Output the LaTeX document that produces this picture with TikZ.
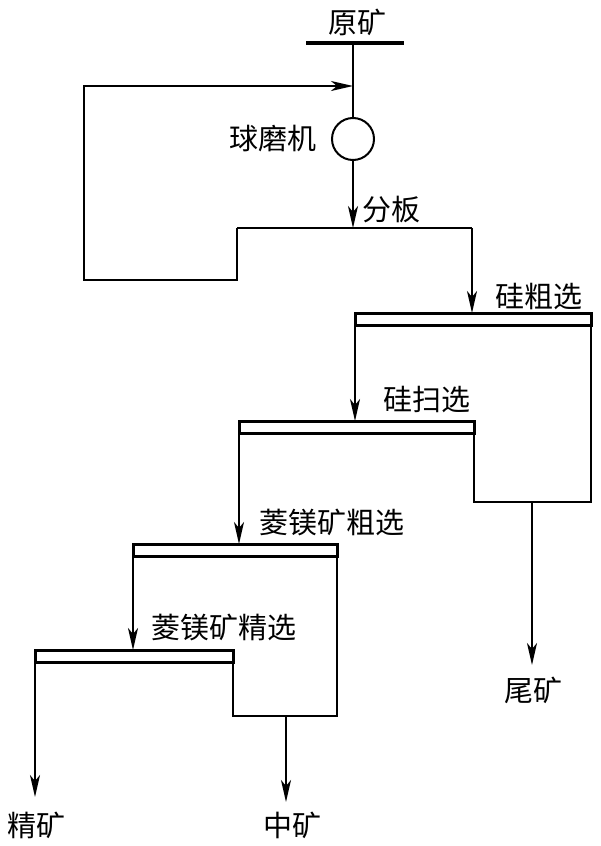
\documentclass[tikz,border=0pt]{standalone}
\usepackage{fontspec}
\newfontfamily\cjk{Noto Sans CJK SC}
\newcommand{\celltop}[4]{%
  \draw[celltop] (#2,#4) rectangle (#3,#4+12);
  \coordinate (#1-t) at (#2,#4);
  \coordinate (#1-l) at (#2,#4+12);
  \coordinate (#1-r) at (#3,#4+12);
}
\usetikzlibrary{
  arrows.meta,
  positioning
}

\begin{document}
\begin{tikzpicture}[x=1pt, y=-1pt]

\tikzset{
  flow/.style={
    line width=2pt,
    -{Stealth[length=22pt, width=10pt, inset=6pt]}
  },
  pipe/.style={line width=2pt},
  celltop/.style={line width=3pt, fill=white},
  lbl/.style={
    font=\cjk\fontsize{29}{32}\selectfont,
    inner sep=0pt
  },
  mill/.style={
    draw,
    circle,
    line width=2pt,
    minimum size=42pt,
    inner sep=0pt
  }
}

\useasboundingbox (0,0) rectangle (600,846);

% NODES ----------------------------------------------------------

% Feed, mill and split box
\node[lbl] (feed) at (357,22) {原矿};
\coordinate (barl) at (306,43);
\coordinate (barr) at (404,43);
\coordinate (feedbar) at (353,43);
\coordinate (ret) at (353,86);
\node[mill] (mill) at (353,139) {};
\node[lbl, left=14pt of mill] (milltxt) {球磨机};
\node[lbl] (split) at (391,210) {分板};
\coordinate (splitl) at (237,228);
\coordinate (splitr) at (472,228);
\coordinate (splitin) at (353,228);
\coordinate (loop) at (84,280);

% Flotation cells
\node[lbl] (c1txt) at (539,297) {硅粗选};
\node[lbl] (c2txt) at (427,400) {硅扫选};
\node[lbl] (c3txt) at (332,522) {菱镁矿粗选};
\node[lbl] (c4txt) at (224,627) {菱镁矿精选};
\coordinate (c1-b) at (474,502);
\coordinate (c1-out) at (532,502);
\coordinate (c3-b) at (233,716);
\coordinate (c3-out) at (286,716);

% Products
\node[lbl] (tail) at (533,690) {尾矿};
\node[lbl] (conc) at (36,825) {精矿};
\node[lbl] (midd) at (292,825) {中矿};
\coordinate (tailend) at (532,665);
\coordinate (concend) at (35,797);
\coordinate (middend) at (286,802);

% DRAWS ---------------------------------------------------------

% Grinding circuit
\draw[line width=3.5pt] (barl) -- (barr);
\draw[pipe] (feedbar) -- (mill.north);
\draw[flow] (mill.south) -- (splitin);
\draw[pipe] (splitl) -- (splitr);
\draw[flow] (splitl) |- (loop) |- (ret);

% Cells
\celltop{c1}{355}{591}{313}
\celltop{c2}{239}{474}{421}
\celltop{c3}{133}{337}{544}
\celltop{c4}{35}{233}{650}

\draw[flow] (splitr) -- (splitr |- c1-t);
\draw[pipe] (c1-r) |- (c1-b) -- (c2-r);
\draw[flow] (c1-l) -- (c1-l |- c2-t);
\draw[flow] (c1-out) -- (tailend);

\draw[flow] (c2-l) -- (c2-l |- c3-t);
\draw[pipe] (c3-r) |- (c3-b) -- (c4-r);
\draw[flow] (c3-l) -- (c3-l |- c4-t);
\draw[flow] (c3-out) -- (middend);
\draw[flow] (c4-l) -- (concend);

\end{tikzpicture}
\end{document}
